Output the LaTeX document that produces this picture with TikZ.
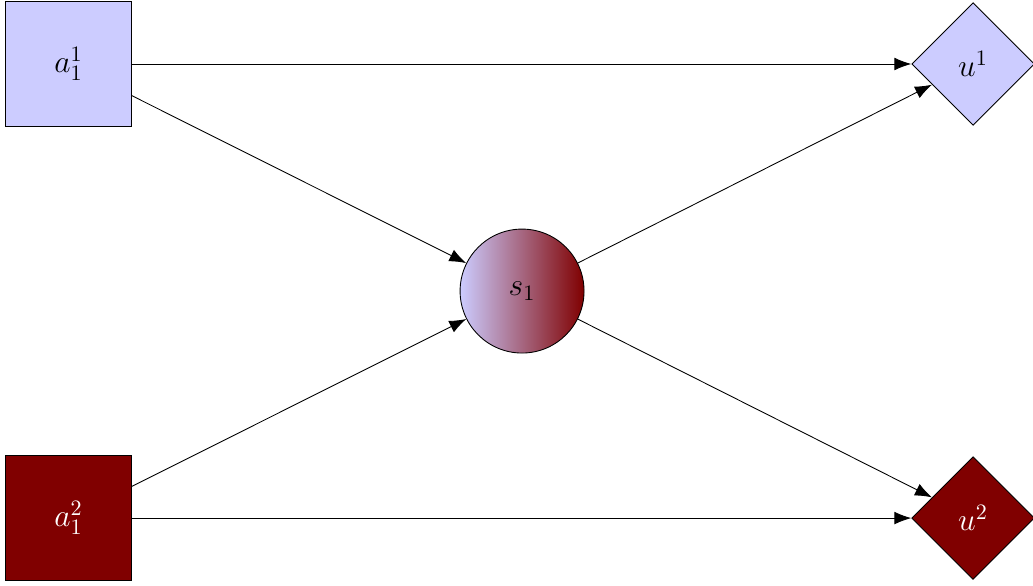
\documentclass[tikz,border=0pt]{standalone}
\usetikzlibrary{shapes.geometric,arrows.meta}
\colorlet{lightnode}{blue!20}
\colorlet{darknode}{red!50!black}
\begin{document}
\begin{tikzpicture}[
    font=\Large,
    agent/.style={draw, rectangle, minimum size=2cm, inner sep=0pt},
    state/.style={draw, circle, minimum size=1.98cm, inner sep=0pt,
                  left color=lightnode, right color=darknode},
    utility/.style={draw, diamond, aspect=1, minimum size=1.96cm, inner sep=0pt},
    link/.style={-{Latex[length=7.7pt,width=5.8pt]}}
  ]
    \useasboundingbox (0,0) rectangle (16.5,-9.345);
    % Agents
    \node[agent, fill=lightnode] (a11) at (1.094,-1.022) {$a_1^1$};
    \node[agent, fill=darknode, text=white] (a12) at (1.094,-8.275) {$a_1^2$};
    % Shared state
    \node[state] (s1) at (8.339,-4.649) {$s_1$};
    % Utilities
    \node[utility, fill=lightnode] (u1) at (15.543,-1.022) {$u^1$};
    \node[utility, fill=darknode, text=white] (u2) at (15.543,-8.275) {$u^2$};

    \draw[link] (a11) -- (u1);
    \draw[link] (a11) -- (s1);
    \draw[link] (a12) -- (s1);
    \draw[link] (a12) -- (u2);
    \draw[link] (s1) -- (u1);
    \draw[link] (s1) -- (u2);
\end{tikzpicture}
\end{document}
